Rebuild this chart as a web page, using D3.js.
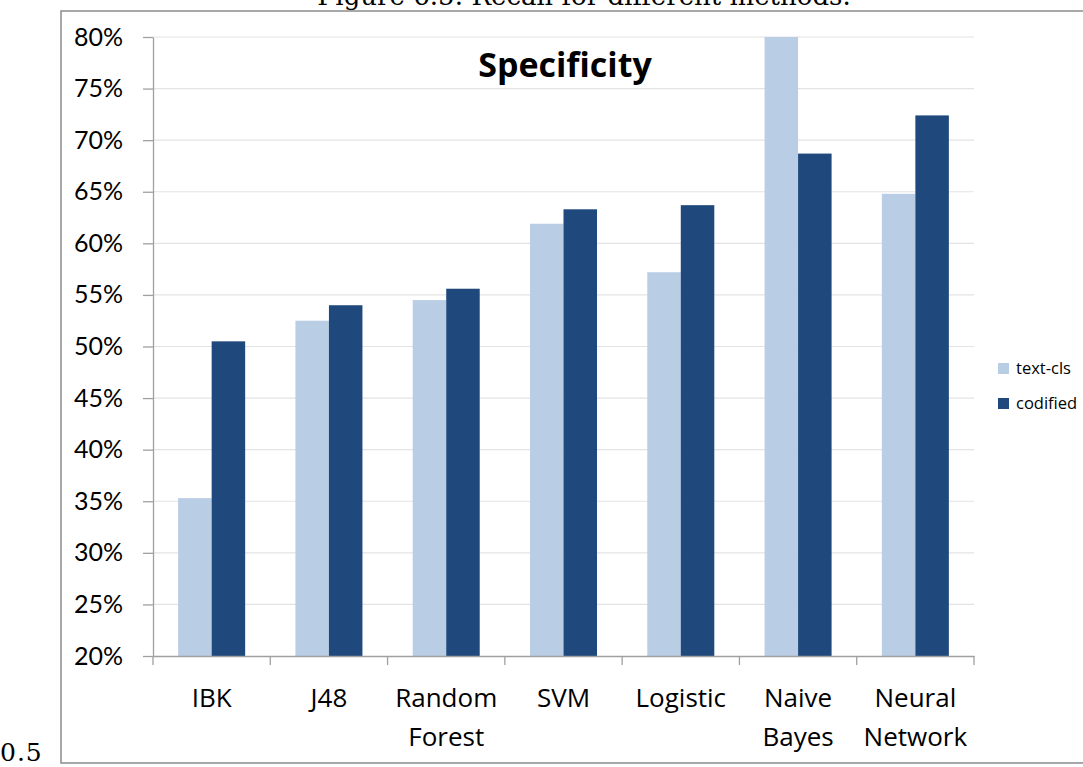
<!DOCTYPE html>
<html>
<head>
<meta charset="utf-8">
<script src="https://cdn.jsdelivr.net/npm/d3@7"></script>
<style>
  body { margin: 0; background: #fff; }
  svg { display: block; }
  .tick text { font-family: Lato, "Open Sans", sans-serif; fill: #000; }
</style>
</head>
<body>
<svg id="chart" width="1083" height="767"></svg>
<script>
// data
const methods = [["IBK"], ["J48"], ["Random", "Forest"], ["SVM"], ["Logistic"], ["Naive", "Bayes"], ["Neural", "Network"]];
const seriesNames = ["text-cls", "codified"];
const textCls  = [35.3, 52.5, 54.5, 61.9, 57.2, 80.0, 64.8];
const codified = [50.5, 54.0, 55.6, 63.3, 63.7, 68.7, 72.4];
const yTicks = [20, 25, 30, 35, 40, 45, 50, 55, 60, 65, 70, 75, 80];
const colors = ["#b9cde4", "#1f497d"];

const svg = d3.select("#chart");
const W = 1083, H = 767;
const sans = "'Open Sans', Lato, sans-serif";
const serif = "'DejaVu Serif', 'Liberation Serif', serif";

svg.append("rect").attr("width", W).attr("height", H).attr("fill", "#fff");

// caption clipped off at the top of the page
svg.append("text")
  .attr("x", 584).attr("y", 5)
  .attr("text-anchor", "middle")
  .style("font-family", serif)
  .style("font-size", "26px")
  .text("Figure 6.5: Recall for different methods.");

// outer frame
svg.append("path")
  .attr("d", "M1090,11 H61 V763 H1090")
  .attr("fill", "none")
  .attr("stroke", "#8c8c8c")
  .attr("stroke-width", 1.5);

svg.append("text")
  .attr("x", 0).attr("y", 761)
  .style("font-family", serif)
  .style("font-size", "25px")
  .attr("letter-spacing", "1px")
  .text("0.5");

const margin = {top: 37, left: 153, right: 109, bottom: 111};
const width = W - margin.left - margin.right;
const height = H - margin.top - margin.bottom;

const g = svg.append("g").attr("transform", "translate(" + margin.left + "," + margin.top + ")");

const x0 = d3.scaleBand().domain(d3.range(methods.length)).range([0, width]).padding(0);
const x1 = d3.scaleBand().domain(seriesNames).range([0, x0.bandwidth()]).paddingInner(0).paddingOuter(0.75);
const y = d3.scaleLinear().domain([20, 80]).range([height, 0]);

// gridlines
g.append("g").selectAll("line")
  .data(yTicks.slice(1))
  .enter().append("line")
  .attr("x1", 0).attr("x2", width)
  .attr("y1", d => y(d)).attr("y2", d => y(d))
  .attr("stroke", "#e3e3e3")
  .attr("stroke-width", 1.2);

// bars
const series = [textCls, codified];
const groups = g.append("g").selectAll("g")
  .data(d3.range(methods.length))
  .enter().append("g")
  .attr("transform", i => "translate(" + x0(i) + ",0)");

groups.selectAll("rect")
  .data(i => seriesNames.map((s, k) => ({s: s, k: k, v: Math.min(series[k][i], 80)})))
  .enter().append("rect")
  .attr("x", d => x1(d.s))
  .attr("width", x1.bandwidth())
  .attr("y", d => y(d.v))
  .attr("height", d => y(20) - y(d.v))
  .attr("fill", d => colors[d.k]);

// y axis
const yAxis = g.append("g")
  .call(d3.axisLeft(y).tickValues(yTicks).tickFormat(d => d + "%").tickSize(10).tickSizeOuter(0).tickPadding(20));
yAxis.selectAll("text").style("font-size", "25px");
yAxis.selectAll("line, path").attr("stroke", "#a0a0a0").attr("stroke-width", 1.3);

// x axis
const xAxis = g.append("g")
  .attr("transform", "translate(0," + height + ")")
  .call(d3.axisBottom(x0).tickSize(0).tickSizeOuter(0).tickFormat(""));
xAxis.select(".domain").attr("stroke", "#a0a0a0").attr("stroke-width", 1.3);

g.append("g").selectAll("line")
  .data(d3.range(methods.length + 1))
  .enter().append("line")
  .attr("x1", i => i * x0.step()).attr("x2", i => i * x0.step())
  .attr("y1", height).attr("y2", height + 9)
  .attr("stroke", "#a0a0a0").attr("stroke-width", 1.3);

const labels = g.append("g").selectAll("text")
  .data(methods)
  .enter().append("text")
  .attr("x", (d, i) => x0(i) + x0.bandwidth() / 2)
  .attr("y", height + 51)
  .attr("text-anchor", "middle")
  .style("font-family", sans)
  .style("font-size", "26px");
labels.selectAll("tspan")
  .data(d => d)
  .enter().append("tspan")
  .attr("x", function() { return d3.select(this.parentNode).attr("x"); })
  .attr("dy", (d, i) => i === 0 ? 0 : 39)
  .text(d => d);

// title
g.append("text")
  .attr("x", 412).attr("y", 40)
  .attr("text-anchor", "middle")
  .style("font-family", sans)
  .style("font-weight", "bold")
  .style("font-size", "34px")
  .text("Specificity");

// legend
const legend = svg.append("g").attr("transform", "translate(998,360)");
legend.selectAll("g")
  .data(seriesNames)
  .enter().append("g")
  .attr("transform", (d, i) => "translate(0," + i * 35 + ")")
  .each(function(d, i) {
    const it = d3.select(this);
    it.append("rect").attr("width", 11).attr("height", 11).attr("y", 3).attr("fill", colors[i]);
    it.append("text").attr("x", 18).attr("y", 14)
      .style("font-family", sans)
      .style("font-size", "16.5px")
      .text(d);
  });
</script>
</body>
</html>
